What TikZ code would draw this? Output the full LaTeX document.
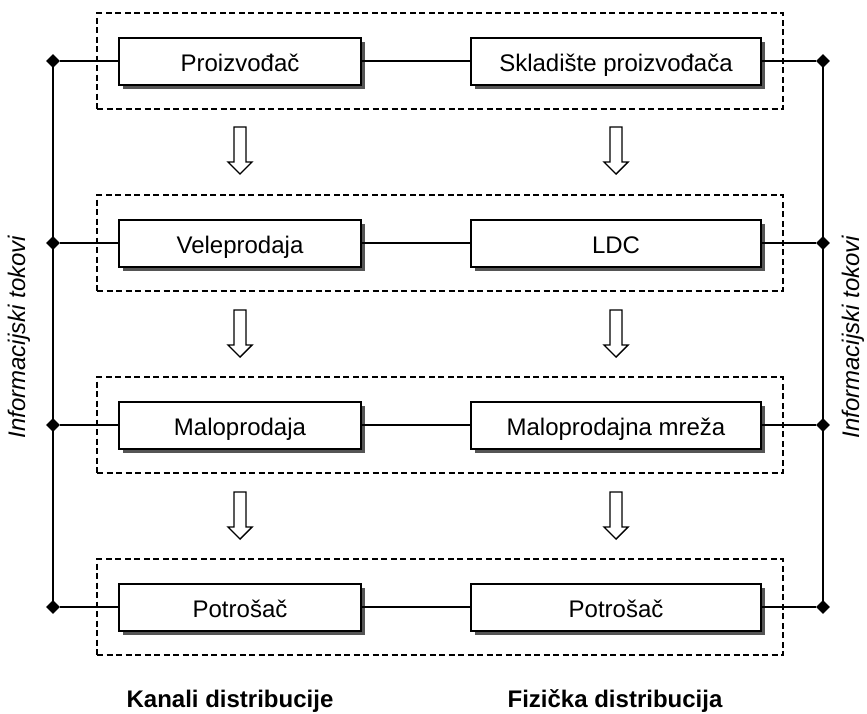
\documentclass[tikz,border=0pt]{standalone}
\usepackage{fontspec}
\setmainfont{Liberation Sans}
\usepackage{tikz}
\usetikzlibrary{fit}
\usetikzlibrary{shapes.geometric}
\usetikzlibrary{shadows}
\usepackage{xcolor}
\definecolor{ColShadow}{RGB}{85,85,85}
\tikzstyle{BoxFlow}=[rectangle,draw=black,fill=white,line width=2pt,minimum height=47pt,
inner sep=0pt,text height=21pt,text depth=0pt,font=\fontsize{24}{28}\selectfont,
drop shadow={shadow xshift=4pt,shadow yshift=-4pt,fill=ColShadow,opacity=1}]
\tikzstyle{BoxKanal}=[BoxFlow,minimum width=242pt]
\tikzstyle{BoxFiz}=[BoxFlow,minimum width=290pt]
\tikzstyle{GroupBox}=[draw=black,line width=2pt,dash pattern=on 6pt off 3.5pt,
inner xsep=21pt,inner ysep=23.5pt]
\tikzstyle{InfoDot}=[diamond,fill=black,inner sep=0pt,minimum size=14pt]
\tikzstyle{LinkLine}=[black,line width=1.7pt]
\tikzstyle{BlockArrow}=[draw=black,fill=white,line width=1.4pt,line join=miter]
\tikzstyle{ColTitle}=[font=\fontsize{24}{28}\selectfont\bfseries,anchor=base]
\tikzstyle{SideTitle}=[font=\fontsize{24}{28}\selectfont\itshape,rotate=90]

\begin{document}
\begin{tikzpicture}[x=1pt,y=-1pt]
        \useasboundingbox (0,0) rectangle (867,713);
        % kanali distribucije
        \node[BoxKanal](Proiz)at(240,61){Proizvođač};
        \node[BoxKanal](Velep)at(240,243){Veleprodaja};
        \node[BoxKanal](Malop)at(240,425){Maloprodaja};
        \node[BoxKanal](PotrK)at(240,607){Potrošač};
        % fizicka distribucija
        \node[BoxFiz](Sklad)at(616,61){Skladište proizvođača};
        \node[BoxFiz](Ldc)at(616,243){LDC};
        \node[BoxFiz](Mreza)at(616,425){Maloprodajna mreža};
        \node[BoxFiz](PotrF)at(616,607){Potrošač};
        % razine
        \node[GroupBox,fit=(Proiz)(Sklad)](RowA){};
        \node[GroupBox,fit=(Velep)(Ldc)](RowB){};
        \node[GroupBox,fit=(Malop)(Mreza)](RowC){};
        \node[GroupBox,fit=(PotrK)(PotrF)](RowD){};
        % informacijski tokovi
        \node[InfoDot](dLA)at(53,61){};
        \node[InfoDot](dLB)at(53,243){};
        \node[InfoDot](dLC)at(53,425){};
        \node[InfoDot](dLD)at(53,607){};
        \node[InfoDot](dRA)at(823,61){};
        \node[InfoDot](dRB)at(823,243){};
        \node[InfoDot](dRC)at(823,425){};
        \node[InfoDot](dRD)at(823,607){};
        \draw[LinkLine](dLA.center)--(dLD.center);
        \draw[LinkLine](dRA.center)--(dRD.center);
        \draw[LinkLine](dLA)--(Proiz);
        \draw[LinkLine](dLB)--(Velep);
        \draw[LinkLine](dLC)--(Malop);
        \draw[LinkLine](dLD)--(PotrK);
        \draw[LinkLine](Proiz)--(Sklad);
        \draw[LinkLine](Velep)--(Ldc);
        \draw[LinkLine](Malop)--(Mreza);
        \draw[LinkLine](PotrK)--(PotrF);
        \draw[LinkLine](Sklad)--(dRA);
        \draw[LinkLine](Ldc)--(dRB);
        \draw[LinkLine](Mreza)--(dRC);
        \draw[LinkLine](PotrF)--(dRD);
        % strelice
        \foreach \x in {240,616}
          \foreach \y in {127,310,492}
            \draw[BlockArrow,shift={(\x,\y)}](-6,0)--(6,0)--(6,35)--(12,35)--(0,47)
              --(-12,35)--(-6,35)--cycle;
        % naslovi
        \node[ColTitle](TitK)at(230,707){Kanali distribucije};
        \node[ColTitle](TitF)at(615,707){Fizička distribucija};
        \node[SideTitle](InfoL)at(19,337){Informacijski tokovi};
        \node[SideTitle](InfoR)at(853,337){Informacijski tokovi};
    \end{tikzpicture}
\end{document}
